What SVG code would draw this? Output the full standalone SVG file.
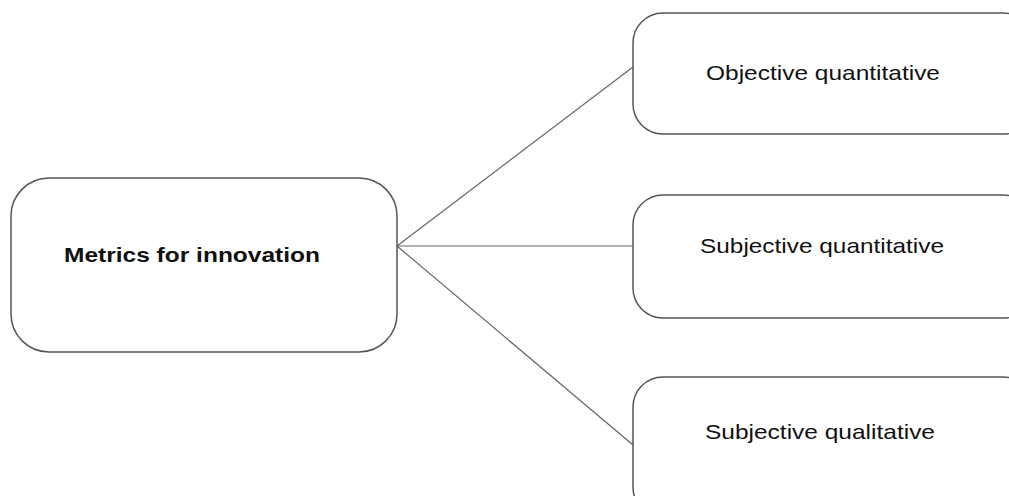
<svg xmlns="http://www.w3.org/2000/svg" width="1009" height="496" viewBox="0 0 1009 496">
<style>
.box{fill:#fff;stroke:#555;stroke-width:1.5}
.lbl{font-family:"Liberation Sans",Arial,sans-serif;font-size:21px;fill:#111}
.b{font-weight:bold;font-size:20.5px}
.conn{stroke:#666;stroke-width:1.2;fill:none}
</style>
<rect width="1009" height="496" fill="#fff"/>
<g id="connectors">
<line class="conn" x1="397" y1="246" x2="633" y2="67"/>
<line class="conn" x1="397" y1="246" x2="633" y2="246"/>
<line class="conn" x1="397" y1="246" x2="633" y2="445"/>
</g>
<g id="metrics">
<rect class="box" x="11" y="178" width="386" height="174" rx="38" ry="38"/>
<text class="lbl b" x="64" y="262" textLength="256" lengthAdjust="spacingAndGlyphs">Metrics for innovation</text>
</g>
<g id="objective-quantitative">
<rect class="box" x="633" y="13" width="400" height="121" rx="30" ry="30"/>
<text class="lbl" x="706" y="80" textLength="234" lengthAdjust="spacingAndGlyphs">Objective quantitative</text>
</g>
<g id="subjective-quantitative">
<rect class="box" x="633" y="195" width="400" height="123" rx="30" ry="30"/>
<text class="lbl" x="700" y="253" textLength="244" lengthAdjust="spacingAndGlyphs">Subjective quantitative</text>
</g>
<g id="subjective-qualitative">
<rect class="box" x="633" y="377" width="400" height="140" rx="30" ry="30"/>
<text class="lbl" x="705" y="439" textLength="230" lengthAdjust="spacingAndGlyphs">Subjective qualitative</text>
</g>
</svg>
